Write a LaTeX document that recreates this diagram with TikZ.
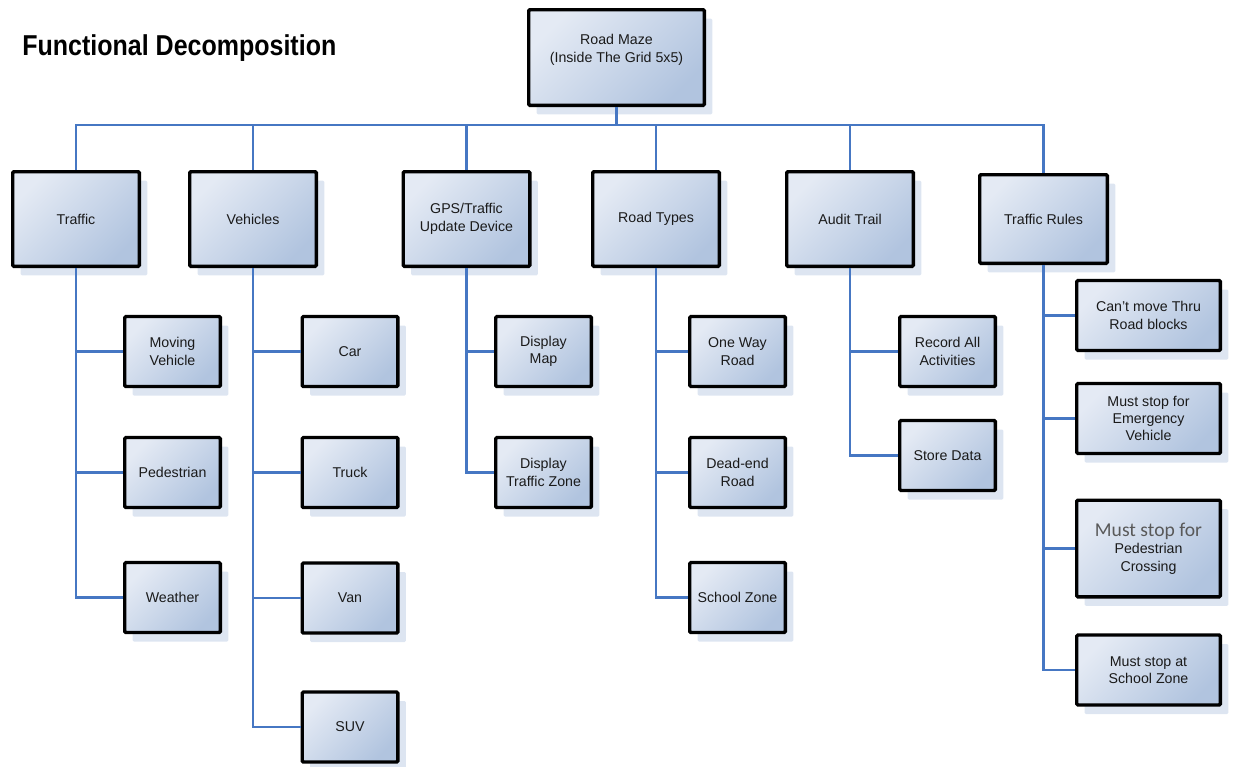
\documentclass[tikz,border=0pt]{standalone}
\usepackage{fontspec}
\setmainfont{Liberation Sans}
\newfontfamily\calibfont{Carlito}
\usetikzlibrary{shadows}
\definecolor{conncol}{HTML}{4677C3}
\definecolor{boxlight}{HTML}{E4EAF4}
\definecolor{boxdark}{HTML}{B1C4DF}
\definecolor{shadowcol}{HTML}{DDE5F1}
\definecolor{txt}{HTML}{1A1A1A}
\definecolor{graytxt}{HTML}{595959}
\begin{document}
\begin{tikzpicture}[x=0.5pt,y=-0.5pt,
  box/.style={draw=black, line width=1.7pt, rounded corners=0.6pt,
    top color=boxlight, bottom color=boxdark, shading angle=45,
    drop shadow={shadow xshift=4pt, shadow yshift=-4.5pt, fill=shadowcol, opacity=1},
    align=center, inner sep=0pt, text=txt,
    font=\fontsize{7.1}{8.7}\selectfont},
  big/.style={box, minimum width=63.3pt, minimum height=47.3pt},
  small/.style={box, minimum width=47.8pt, minimum height=35pt},
  rulebox/.style={box, minimum width=71.8pt, minimum height=35pt},
  conn/.style={draw=conncol, line width=1.15pt}]
\useasboundingbox (0,0) rectangle (1234,766);

\node[anchor=base west, inner sep=0pt, font=\bfseries\fontsize{12.5}{15}\selectfont] (title) at (22,55) {\scalebox{1}[1.15]{Functional Decomposition}};

\node[box, minimum width=87.8pt, minimum height=47.8pt, text depth=9pt] (root) at (616.5,57.5) {Road Maze\\(Inside The Grid 5x5)};

\node[big] (traffic) at (76,219) {Traffic};
\node[big] (vehicles) at (253,219) {Vehicles};
\node[big] (gps) at (466.5,219) {GPS/Traffic\\Update Device};
\node[big] (roadtypes) at (656,219) {Road Types};
\node[big] (audit) at (850,219) {Audit Trail};
\node[box, minimum width=63.8pt, minimum height=44.3pt] (rules) at (1043.5,219) {Traffic Rules};

\node[small] (moving) at (172.5,351.5) {Moving\\Vehicle};
\node[small] (pedestrian) at (172.5,472.5) {Pedestrian};
\node[small] (weather) at (172.5,597.5) {Weather};

\node[small] (car) at (350,351.5) {Car};
\node[small] (truck) at (350,472.5) {Truck};
\node[small] (van) at (350,598) {Van};
\node[small] (suv) at (350,727) {SUV};

\node[small] (map) at (543.5,351.5) {Display\\Map};
\node[small] (zone) at (543.5,472.5) {Display\\Traffic Zone};

\node[small] (oneway) at (737.5,351.5) {One Way\\Road};
\node[small] (deadend) at (737.5,472.5) {Dead-end\\Road};
\node[small] (school) at (737.5,597.5) {School Zone};

\node[small] (record) at (947.5,351.5) {Record All\\Activities};
\node[small] (store) at (947.5,455.5) {Store Data};

\node[rulebox] (blocks) at (1148.5,315.5) {Can’t move Thru\\Road blocks};
\node[rulebox] (emergency) at (1148.5,418.5) {Must stop for\\Emergency\\Vehicle};
\node[rulebox, minimum height=48.3pt] (crossing) at (1148.5,548.5) {{\calibfont\color{graytxt}\fontsize{9.8}{11}\selectfont Must stop for}\\Pedestrian\\Crossing};
\node[rulebox] (schoolrule) at (1148.5,670) {Must stop at\\School Zone};

\foreach \n in {traffic,vehicles,gps,roadtypes,audit,rules}
  \draw[conn] (root.south) -- ++(0,18) -| (\n.north);

\foreach \p/\c in {traffic/moving,traffic/pedestrian,traffic/weather,
  vehicles/car,vehicles/truck,vehicles/van,vehicles/suv,
  gps/map,gps/zone,
  roadtypes/oneway,roadtypes/deadend,roadtypes/school,
  audit/record,audit/store,
  rules/blocks,rules/emergency,rules/crossing,rules/schoolrule}
  \draw[conn] (\p.south) |- (\c.west);
\end{tikzpicture}
\end{document}
